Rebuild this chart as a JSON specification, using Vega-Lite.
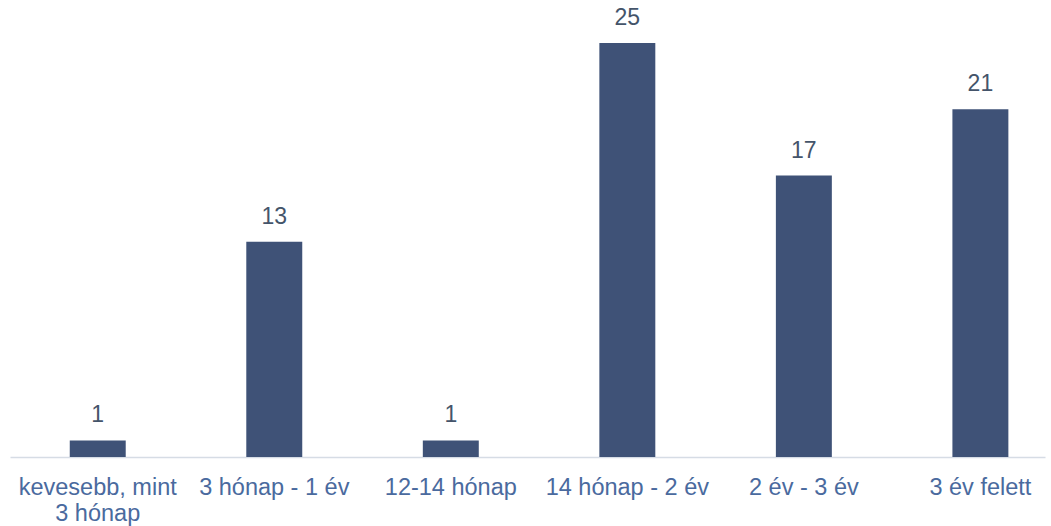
{
  "$schema": "https://vega.github.io/schema/vega-lite/v6.json",
  "width": 1035,
  "height": 457,
  "autosize": {"type": "none"},
  "padding": {"left": 10, "top": 0, "right": 6, "bottom": 69},
  "background": "white",
  "config": {"view": {"stroke": null}},
  "data": {
    "values": [
      {"cat": "kevesebb, mint 3 hónap", "value": 1},
      {"cat": "3 hónap - 1 év", "value": 13},
      {"cat": "12-14 hónap", "value": 1},
      {"cat": "14 hónap - 2 év", "value": 25},
      {"cat": "2 év - 3 év", "value": 17},
      {"cat": "3 év felett", "value": 21}
    ]
  },
  "encoding": {
    "x": {
      "field": "cat",
      "type": "nominal",
      "sort": null,
      "scale": {"paddingInner": 0.683, "paddingOuter": 0.273, "align": 0.62},
      "axis": {
        "title": null,
        "labelAngle": 0,
        "ticks": false,
        "domainColor": "#D6DCE5",
        "domainWidth": 1.5,
        "labelFont": "Liberation Sans",
        "labelFontSize": 23.5,
        "labelColor": "#4A6A9E",
        "labelPadding": 18,
        "labelLineHeight": 26,
        "labelLimit": 400,
        "labelExpr": "datum.label == 'kevesebb, mint 3 hónap' ? ['kevesebb, mint', '3 hónap'] : datum.label"
      }
    },
    "y": {
      "field": "value",
      "type": "quantitative",
      "scale": {"domain": [0, 27.6], "nice": false},
      "axis": null
    }
  },
  "layer": [
    {"mark": {"type": "bar", "color": "#3F5277"}},
    {
      "mark": {
        "type": "text",
        "baseline": "alphabetic",
        "dy": -18,
        "font": "Liberation Sans",
        "fontSize": 23,
        "color": "#44546A"
      },
      "encoding": {"text": {"field": "value", "type": "quantitative"}}
    }
  ]
}
